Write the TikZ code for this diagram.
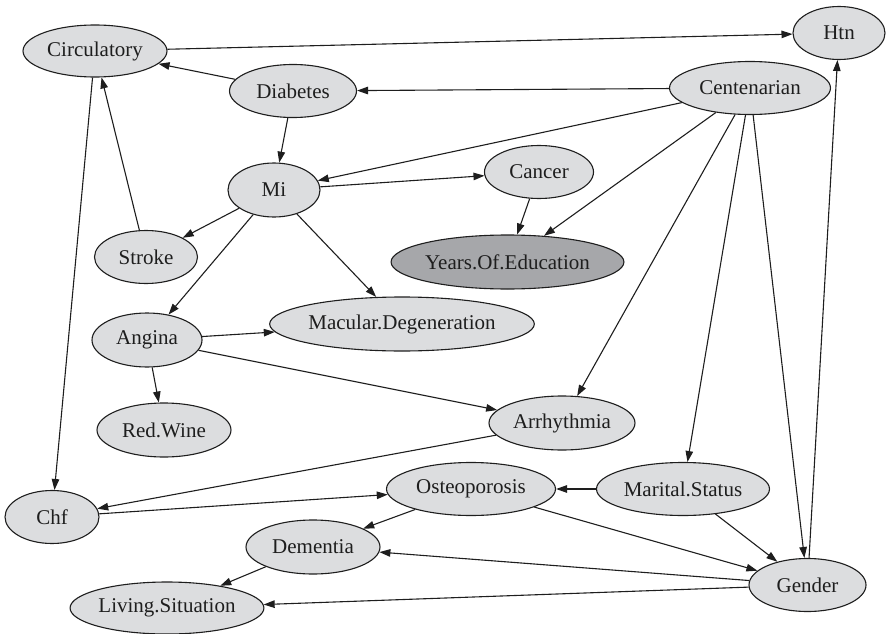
\documentclass[tikz,border=0pt]{standalone}
\usepackage{fontspec}
\setmainfont{Liberation Serif}
\usetikzlibrary{shapes.geometric,arrows.meta}
\definecolor{nodefill}{HTML}{DCDDDF}
\definecolor{obsfill}{HTML}{A6A7AA}
\definecolor{ink}{HTML}{1E1E1E}
\begin{document}
\begin{tikzpicture}[x=1pt,y=-1pt,
  var/.style={ellipse, draw=ink, line width=1.1pt, fill=nodefill, inner sep=0pt,
    text=ink, font=\fontsize{21}{24}\selectfont},
  obs/.style={var, fill=obsfill},
  dep/.style={draw=ink, line width=1.1pt, -{Triangle[length=11pt,width=7.5pt]}}]
\useasboundingbox (0,0) rectangle (886,634);

% variables
\node[var, minimum width=144pt, minimum height=52pt] (circ) at (95,51) {Circulatory};
\node[var, minimum width=92pt,  minimum height=53pt] (htn)  at (839,33) {Htn};
\node[var, minimum width=127pt, minimum height=53pt] (diab) at (293,91) {Diabetes};
\node[var, minimum width=161pt, minimum height=53pt] (cent) at (750,88) {Centenarian};
\node[var, minimum width=92pt,  minimum height=54pt] (mi)   at (274,190) {Mi};
\node[var, minimum width=109pt, minimum height=53pt] (canc) at (539,172) {Cancer};
\node[var, minimum width=103pt, minimum height=53pt] (strk) at (146,257) {Stroke};
\node[obs, minimum width=229pt, minimum height=54pt] (yoe)  at (507.5,262) {Years.Of.Education};
\node[var, minimum width=110pt, minimum height=54pt] (ang)  at (147,340) {Angina};
\node[var, minimum width=254pt, minimum height=54pt] (mac)  at (402,324) {Macular.Degeneration};
\node[var, minimum width=134pt, minimum height=54pt] (wine) at (164,430) {Red.Wine};
\node[var, minimum width=146pt, minimum height=54pt] (arr)  at (562,423) {Arrhythmia};
\node[var, minimum width=94pt,  minimum height=53pt] (chf)  at (52,517) {Chf};
\node[var, minimum width=169pt, minimum height=53pt] (ost)  at (471,489) {Osteoporosis};
\node[var, minimum width=173pt, minimum height=53pt] (mar)  at (683,489) {Marital.Status};
\node[var, minimum width=134pt, minimum height=54pt] (dem)  at (313,547) {Dementia};
\node[var, minimum width=117pt, minimum height=53pt] (gen)  at (807.5,585) {Gender};
\node[var, minimum width=189pt, minimum height=52pt] (liv)  at (167,608) {Living.Situation};

% dependencies
\draw[dep] (circ) -- (htn);
\draw[dep] (diab) -- (circ);
\draw[dep] (cent) -- (diab);
\draw[dep] (diab) -- (mi);
\draw[dep] (cent) -- (mi);
\draw[dep] (mi) -- (canc);
\draw[dep] (canc) -- (yoe);
\draw[dep] (cent) -- (yoe);
\draw[dep] (mi) -- (strk);
\draw[dep] (strk) -- (circ);
\draw[dep] (mi) -- (ang);
\draw[dep] (mi) -- (mac);
\draw[dep] (ang) -- (mac);
\draw[dep] (ang) -- (wine);
\draw[dep] (ang) -- (arr);
\draw[dep] (cent) -- (arr);
\draw[dep] (cent) -- (mar);
\draw[dep] (cent) -- (gen);
\draw[dep] (gen) -- (htn);
\draw[dep] (circ) -- (chf);
\draw[dep] (arr) -- (chf);
\draw[dep] (chf) -- (ost);
\draw[dep] (mar) -- (ost);
\draw[dep] (mar) -- (gen);
\draw[dep] (ost) -- (gen);
\draw[dep] (ost) -- (dem);
\draw[dep] (gen) -- (dem);
\draw[dep] (dem) -- (liv);
\draw[dep] (gen) -- (liv);
\end{tikzpicture}
\end{document}
